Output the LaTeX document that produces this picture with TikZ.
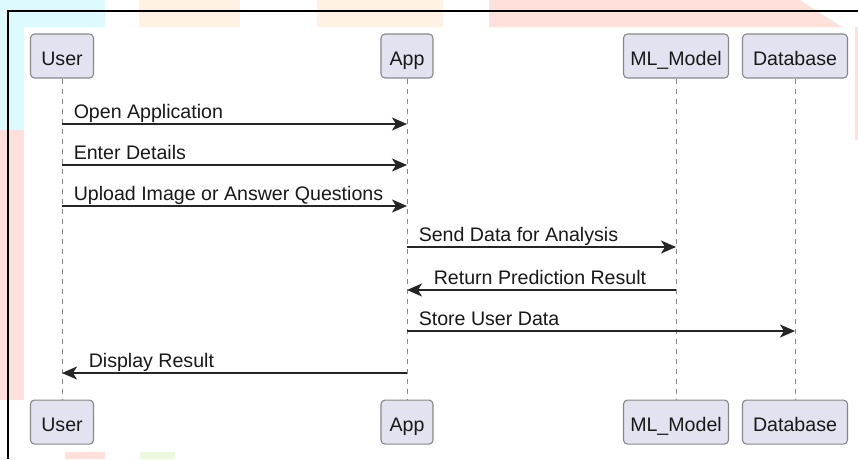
\documentclass[tikz,border=0pt]{standalone}
\usepackage{fontspec}
\setmainfont{Liberation Sans}
\usepackage{tikz}
\usetikzlibrary{arrows.meta,positioning}
\definecolor{boxfill}{HTML}{E2E2F0}
\definecolor{boxline}{HTML}{888888}
\definecolor{wmcyan}{HTML}{DDFBFF}
\definecolor{wmpeach}{HTML}{FFF2E4}
\definecolor{wmpink}{HTML}{FFE0DA}
\definecolor{wmgreen}{HTML}{EAF8E0}
\tikzstyle{party}=[rectangle,rounded corners=4pt,draw=boxline,fill=boxfill,line width=1.1pt,inner xsep=3pt,inner ysep=0pt,minimum height=44pt,text height=20pt,text depth=2pt,text=black!90]
\tikzstyle{life}=[draw=boxline,line width=0.9pt,dash pattern=on 5pt off 5pt]
\tikzstyle{msg}=[-{Stealth[length=15pt,width=13pt,inset=4pt]},line width=1.5pt,draw=black!85]
\tikzstyle{lbl}=[inner sep=0pt,anchor=base west,text=black!90]

\begin{document}
\begin{tikzpicture}[x=1pt,y=1pt,font=\fontsize{19.6}{23}\selectfont]
    \useasboundingbox (0,0) rectangle (858,-459);

    % Hintergrund
    \fill[wmcyan] (0,0) rectangle (105,-27);
    \fill[wmcyan] (0,-20) rectangle (24,-130);
    \fill[wmpeach] (139,0) rectangle (240,-27);
    \fill[wmpeach] (317,0) rectangle (443,-27);
    \fill[wmpink] (489,0) -- (800,0) -- (842,-27) -- (489,-27) -- cycle;
    \fill[wmpink] (0,-130) rectangle (24,-400);
    \fill[wmpink] (855,-27) rectangle (858,-140);
    \fill[wmpink] (65,-452) rectangle (105,-459);
    \fill[wmgreen] (140,-452) rectangle (175,-459);
    \fill[white] (24,-27) rectangle (855,-452);
    \draw[line width=1.5pt] (858,-11) -- (8,-11) -- (8,-459);

    % Teilnehmer
    \node[party, minimum width=63pt] (userT) at (62,-56) {User};
    \node[party, minimum width=52pt] (appT) at (407,-56) {App};
    \node[party, minimum width=105pt] (mlT) at (676,-56) {ML\_Model};
    \node[party, minimum width=105pt] (dbT) at (795,-56) {Database};
    \node[party, minimum width=63pt] (userB) [below=321pt of userT] {User};
    \node[party, minimum width=52pt] (appB) [below=321pt of appT] {App};
    \node[party, minimum width=105pt] (mlB) [below=321pt of mlT] {ML\_Model};
    \node[party, minimum width=105pt] (dbB) [below=321pt of dbT] {Database};

    % Lebenslinien
    \draw [life] (userT) -- (userB);
    \draw [life] (appT) -- (appB);
    \draw [life] (mlT) -- (mlB);
    \draw [life] (dbT) -- (dbB);

    % Nachrichten
    \coordinate (m1) at (0,-124);
    \coordinate (m2) at (0,-165);
    \coordinate (m3) at (0,-206);
    \coordinate (m4) at (0,-247);
    \coordinate (m5) at (0,-290);
    \coordinate (m6) at (0,-331);
    \coordinate (m7) at (0,-373);
    \draw [msg] (userT |- m1) -- (appT |- m1) node[lbl,pos=0,xshift=11pt,yshift=6pt] {Open Application};
    \draw [msg] (userT |- m2) -- (appT |- m2) node[lbl,pos=0,xshift=11pt,yshift=6pt] {Enter Details};
    \draw [msg] (userT |- m3) -- (appT |- m3) node[lbl,pos=0,xshift=11pt,yshift=6pt] {Upload Image or Answer Questions};
    \draw [msg] (appT |- m4) -- (mlT |- m4) node[lbl,pos=0,xshift=11pt,yshift=6pt] {Send Data for Analysis};
    \draw [msg] (mlT |- m5) -- (appT |- m5) node[lbl,pos=1,xshift=26pt,yshift=6pt] {Return Prediction Result};
    \draw [msg] (appT |- m6) -- (dbT |- m6) node[lbl,pos=0,xshift=11pt,yshift=6pt] {Store User Data};
    \draw [msg] (appT |- m7) -- (userT |- m7) node[lbl,pos=1,xshift=26pt,yshift=6pt] {Display Result};

\end{tikzpicture}
\end{document}
